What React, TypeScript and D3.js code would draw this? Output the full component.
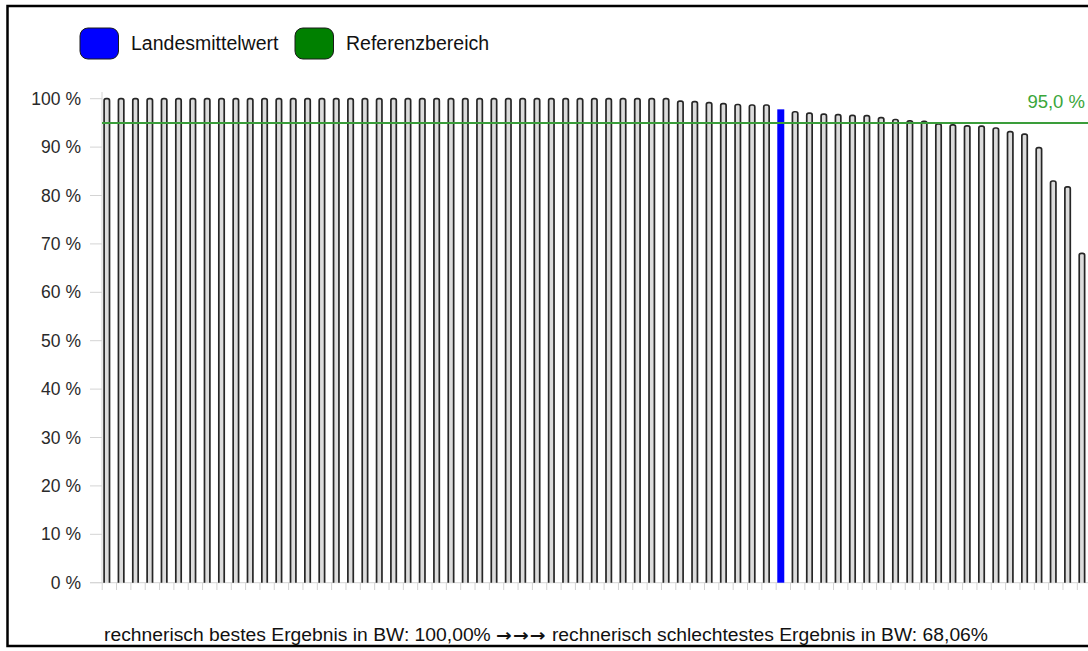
import React from "react";
import * as d3 from "d3";

const values: number[] = [
  100, 100, 100, 100, 100, 100, 100, 100, 100, 100,
  100, 100, 100, 100, 100, 100, 100, 100, 100, 100,
  100, 100, 100, 100, 100, 100, 100, 100, 100, 100,
  100, 100, 100, 100, 100, 100, 100, 100, 100, 100,
  99.5, 99.4, 99.2, 99.0, 98.8, 98.7, 98.7, 97.8, 97.3, 97.0,
  96.8, 96.7, 96.55, 96.5, 96.1, 95.7, 95.4, 95.3, 94.8, 94.6,
  94.4, 94.35, 93.95, 93.2, 92.7, 89.9, 83.0, 81.8, 68.06,
];
const landesIndex = 47;
const referenzWert = 95;
const yTicks: number[] = [0, 10, 20, 30, 40, 50, 60, 70, 80, 90, 100];
const legendItems = [
  { label: "Landesmittelwert", color: "#0000ff" },
  { label: "Referenzbereich", color: "#008000" },
];
const bottomLeft = "rechnerisch bestes Ergebnis in BW: 100,00% ";
const bottomArrows = "\u2192\u2192\u2192";
const bottomRight = " rechnerisch schlechtestes Ergebnis in BW: 68,06%";

const W = 1088;
const H = 651;
const FONT = "'Liberation Sans', Arial, sans-serif";

export default function App() {
  const step = 14.34;
  const x0 = 101.7;
  const x = d3
    .scaleBand<number>()
    .domain(values.map((_, i) => i))
    .range([x0, x0 + step * values.length])
    .paddingInner(0)
    .paddingOuter(0);
  const y = d3.scaleLinear().domain([0, 100]).range([582.7, 98.7]);

  return (
    <svg
      width={W}
      height={H}
      style={{ position: "absolute", left: 0, top: 0, background: "#fff" }}
      fontFamily={FONT}
    >
      <rect x={0} y={0} width={W} height={H} fill="#fff" />
      {/* outer border */}
      <rect x={7.5} y={6} width={1200} height={640} fill="none" stroke="#000" strokeWidth={2.5} />

      {/* legend */}
      {legendItems.map((item, i) => {
        const bx = i === 0 ? 80 : 295;
        return (
          <g key={item.label}>
            <rect x={bx} y={28} width={38.5} height={31} rx={8} fill={item.color} stroke="#1a1a1a" strokeWidth={1} />
            <text x={bx + 51} y={50} fontSize={19.5} fill="#111">
              {item.label}
            </text>
          </g>
        );
      })}

      {/* y axis */}
      <line x1={102} x2={102} y1={92} y2={582.7} stroke="#d4d4d4" strokeWidth={1} />
      {yTicks.map((t) => (
        <g key={t}>
          <line x1={90} x2={102} y1={y(t)} y2={y(t)} stroke="#d4d4d4" strokeWidth={1} />
          <text x={81} y={y(t)} dy="0.35em" textAnchor="end" fontSize={17.5} fill="#2a2a2a">
            {t} %
          </text>
        </g>
      ))}

      {/* x axis */}
      <line x1={90} x2={W} y1={582.7} y2={582.7} stroke="#d4d4d4" strokeWidth={1} />
      {values.map((_, i) => (
        <line
          key={"t" + i}
          x1={(x(i) as number) + 0.5}
          x2={(x(i) as number) + 0.5}
          y1={582.7}
          y2={590}
          stroke="#d4d4d4"
          strokeWidth={1}
        />
      ))}

      {/* bars */}
      {values.map((v, i) => {
        const bx = x(i) as number;
        if (i === landesIndex) {
          return (
            <rect key={i} x={bx + 1.6} y={y(v)} width={7} height={y(0) - y(v)} fill="#0000ff" />
          );
        }
        const bw = 5.4;
        const left = bx + 2.4;
        const top = y(v);
        const bottom = y(0);
        const r = 2;
        const d = `M${left},${bottom} L${left},${top + r} Q${left},${top} ${left + r},${top} L${left + bw - r},${top} Q${left + bw},${top} ${left + bw},${top + r} L${left + bw},${bottom}`;
        return (
          <path key={i} d={d} fill="#dcdcdc" stroke="#262626" strokeWidth={1.7} />
        );
      })}

      {/* reference line */}
      <line x1={102} x2={W} y1={y(referenzWert)} y2={y(referenzWert)} stroke="#3a9d3a" strokeWidth={2} />
      <text x={1085} y={108} textAnchor="end" fontSize={18.5} fill="#3aa63a">
        95,0 %
      </text>

      {/* bottom text */}
      <text x={104} y={641} fontSize={17.5} fill="#111" textLength={884} lengthAdjust="spacingAndGlyphs">
        {bottomLeft}
        <tspan fontFamily="'DejaVu Sans', sans-serif" fontWeight="bold" fontSize={17} letterSpacing={1}>{bottomArrows}</tspan>
        {bottomRight}
      </text>
    </svg>
  );
}
